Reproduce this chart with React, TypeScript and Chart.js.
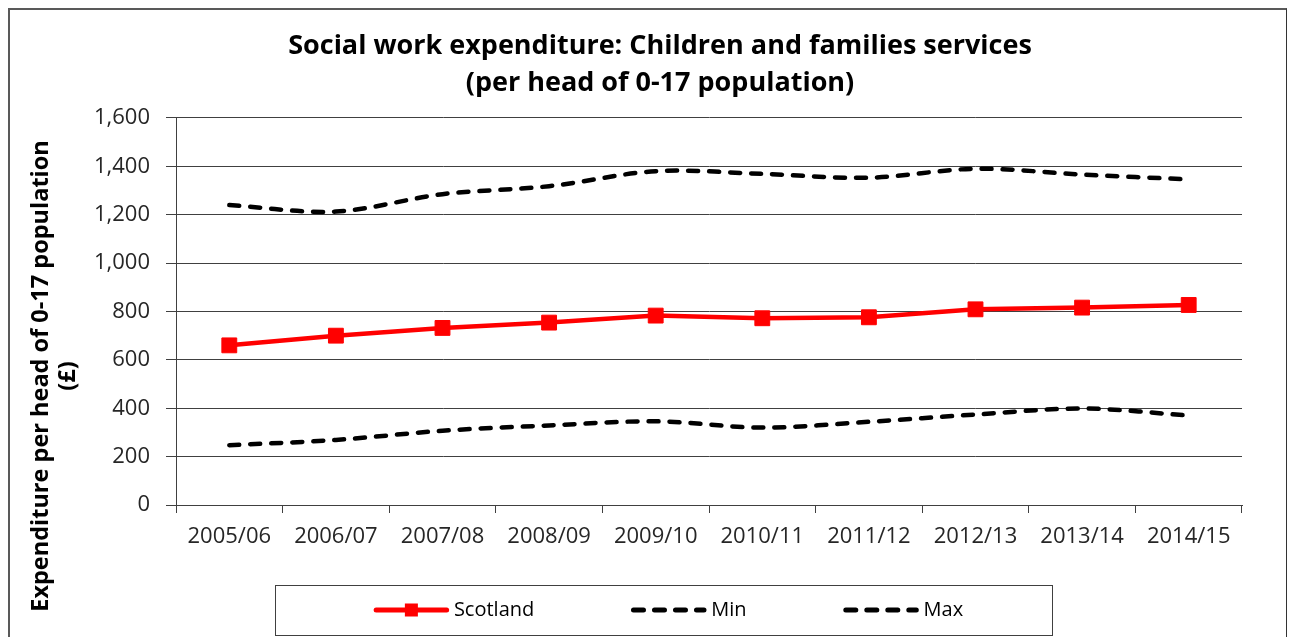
import React, { useEffect, useRef } from 'react';
import { Chart, registerables } from 'chart.js';

Chart.register(...registerables);

// ---- Data ----
const CATEGORIES = ['2005/06', '2006/07', '2007/08', '2008/09', '2009/10', '2010/11', '2011/12', '2012/13', '2013/14', '2014/15'];
const SCOTLAND = [660, 700, 732, 754, 783, 772, 776, 809, 816, 827];
const MIN_VALUES = [247, 269, 307, 329, 346, 320, 344, 374, 399, 370];
const MAX_VALUES = [1240, 1213, 1285, 1318, 1380, 1369, 1353, 1390, 1366, 1346];
const SERIES_NAMES = ['Scotland', 'Min', 'Max'];
const Y_MIN = 0;
const Y_MAX = 1600;
const Y_STEP = 200;
const TITLE_LINES = ['Social work expenditure: Children and families services', '(per head of 0-17 population)'];
const Y_TITLE_LINES = ['Expenditure per head of 0-17 population', '(£)'];

const FONT = '"Open Sans", "DejaVu Sans", sans-serif';
const AXIS_COLOR = '#404040';
const TEXT_COLOR = '#262626';

// y-axis title drawn rotated at a fixed place beside the axis
const yTitlePlugin = {
  id: 'yTitle',
  afterDraw(chart: any, _args: any, opts: any) {
    const ctx = chart.ctx;
    ctx.save();
    ctx.translate(opts.x, opts.y);
    ctx.rotate(-Math.PI / 2);
    ctx.font = `bold ${opts.size}px ${FONT}`;
    ctx.fillStyle = '#000';
    ctx.textAlign = 'center';
    ctx.textBaseline = 'alphabetic';
    opts.lines.forEach((l: string, i: number) => ctx.fillText(l, 0, i * opts.lineGap));
    ctx.restore();
  },
};

// legend inside a bordered box
const boxLegendPlugin = {
  id: 'boxLegend',
  afterDraw(chart: any, _args: any, opts: any) {
    const ctx = chart.ctx;
    const { cx, top, width, height, sample, gap, spacing, shift, fontSize } = opts;
    ctx.save();
    ctx.strokeStyle = AXIS_COLOR;
    ctx.lineWidth = 1;
    ctx.strokeRect(Math.round(cx - width / 2) + 0.5, top + 0.5, width, height);
    ctx.font = `${fontSize}px ${FONT}`;
    const items = chart.data.datasets.map((ds: any) => ({ ds, w: ctx.measureText(ds.label).width }));
    const total = items.reduce((s: number, it: any) => s + sample + gap + it.w, 0) + spacing * (items.length - 1);
    let x = cx - total / 2 + shift;
    const y = top + height / 2;
    items.forEach(({ ds, w }: any) => {
      ctx.save();
      ctx.strokeStyle = ds.borderColor;
      ctx.lineWidth = ds.borderWidth + 0.5;
      ctx.lineCap = ds.borderCapStyle || 'butt';
      ctx.setLineDash(ds.borderDash || []);
      const inset = ds.borderCapStyle === 'round' ? ds.borderWidth / 2 : 0;
      ctx.beginPath();
      ctx.moveTo(x + inset, y);
      ctx.lineTo(x + sample - inset, y);
      ctx.stroke();
      ctx.restore();
      if (ds.pointRadius > 0) {
        ctx.fillStyle = ds.pointBackgroundColor;
        ctx.fillRect(x + sample / 2 - 6.5, y - 6.5, 13, 13);
      }
      ctx.fillStyle = '#000';
      ctx.textAlign = 'left';
      ctx.textBaseline = 'middle';
      ctx.fillText(ds.label, x + sample + gap, y);
      x += sample + gap + w + spacing;
    });
    ctx.restore();
  },
};

export default function App() {
  const canvasRef = useRef<HTMLCanvasElement | null>(null);

  useEffect(() => {
    document.documentElement.style.overflow = 'hidden';
    const canvas = canvasRef.current;
    if (!canvas) return;
    const chart = new Chart(canvas, {
      type: 'line',
      data: {
        labels: CATEGORIES,
        datasets: [
          {
            label: SERIES_NAMES[0],
            data: SCOTLAND,
            borderColor: '#ff0000',
            backgroundColor: '#ff0000',
            borderWidth: 4.5,
            borderCapStyle: 'round',
            tension: 0,
            pointStyle: 'rect',
            pointRadius: 10.5,
            pointBackgroundColor: '#ff0000',
            pointBorderColor: '#ff0000',
            pointBorderWidth: 1,
          } as any,
          {
            label: SERIES_NAMES[1],
            data: MIN_VALUES,
            borderColor: '#000000',
            backgroundColor: '#000000',
            borderWidth: 4.5,
            borderDash: [10, 11],
            borderCapStyle: 'round',
            tension: 0.33,
            pointRadius: 0,
          } as any,
          {
            label: SERIES_NAMES[2],
            data: MAX_VALUES,
            borderColor: '#000000',
            backgroundColor: '#000000',
            borderWidth: 4.5,
            borderDash: [10, 11],
            borderCapStyle: 'round',
            tension: 0.33,
            pointRadius: 0,
          } as any,
        ],
      },
      options: {
        responsive: false,
        animation: false,
        events: [],
        layout: { padding: { left: 68, right: 44, top: 0, bottom: 82 } },
        plugins: {
          legend: { display: false },
          tooltip: { enabled: false },
          title: {
            display: true,
            text: TITLE_LINES,
            color: '#000',
            font: { family: FONT, size: 27, weight: 'bold', lineHeight: 1.37 },
            padding: { top: 17.5, bottom: 16.5 },
          },
          yTitle: { x: 38, y: 366, size: 23.5, lineGap: 26.5, lines: Y_TITLE_LINES },
          boxLegend: { cx: 653.5, top: 575, width: 777, height: 50, sample: 75, gap: 5, spacing: 97, shift: 5, fontSize: 20 },
        } as any,
        scales: {
          x: {
            offset: true,
            grid: { offset: true, drawOnChartArea: false, drawTicks: true, tickLength: 8, color: AXIS_COLOR, lineWidth: 1 },
            border: { display: true, color: AXIS_COLOR, width: 1 },
            ticks: { font: { family: FONT, size: 22 }, color: TEXT_COLOR, padding: 11, maxRotation: 0, autoSkip: false },
            afterFit: (s: any) => { s.height = 50; },
          },
          y: {
            min: Y_MIN,
            max: Y_MAX,
            grid: { color: AXIS_COLOR, lineWidth: 1, tickLength: 10, drawTicks: true },
            border: { display: true, color: AXIS_COLOR, width: 1 },
            ticks: {
              stepSize: Y_STEP,
              font: { family: FONT, size: 22 },
              color: TEXT_COLOR,
              padding: 16,
              callback: (v: any) => Number(v).toLocaleString('en-US'),
            },
            afterFit: (s: any) => { s.width = 98; },
          },
        },
      },
      plugins: [yTitlePlugin, boxLegendPlugin],
    });
    return () => chart.destroy();
  }, []);

  return (
    <div
      style={{
        width: 1279,
        height: 629,
        boxSizing: 'border-box',
        borderTop: '2px solid #595959',
        borderLeft: '2px solid #595959',
        borderRight: '1px solid #333333',
        borderBottom: 'none',
        background: '#ffffff',
      }}
    >
      <canvas ref={canvasRef} width={1276} height={627} style={{ display: 'block' }} />
    </div>
  );
}
